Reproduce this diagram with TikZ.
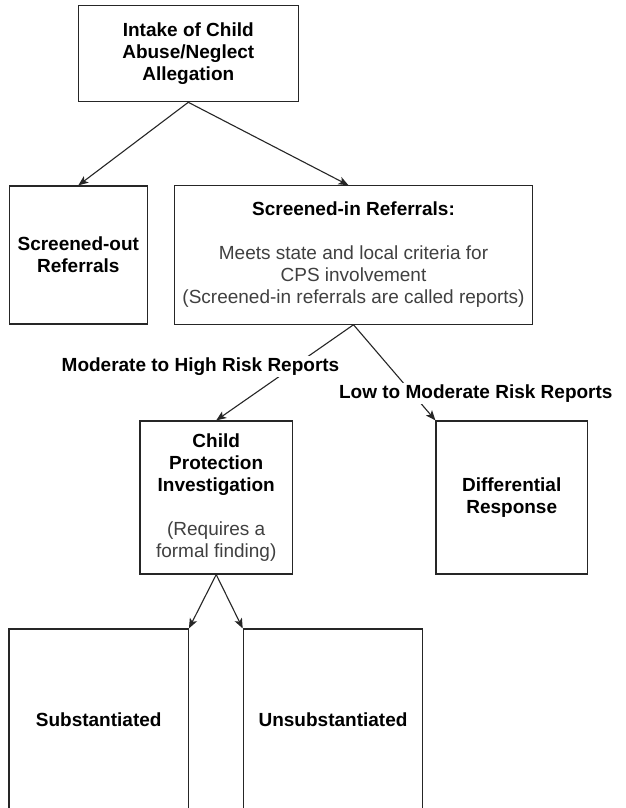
\documentclass[tikz,border=0pt]{standalone}
\usepackage{fontspec}
\setmainfont{Liberation Sans}
\usetikzlibrary{arrows.meta}
\begin{document}
\begin{tikzpicture}[x=1pt,y=-1pt,
  box/.style={draw=black!85, line width=1.2pt, minimum width=#1, inner sep=0pt, align=center,
    font=\fontsize{19}{22}\selectfont},
  conn/.style={draw=black!85, line width=1.1pt, -{Stealth[length=10pt,width=8pt,inset=2.5pt]}},
  plainline/.style={draw=black!85, line width=1.1pt},
  elabel/.style={fill=white, inner sep=1.5pt, font=\fontsize{19}{22}\selectfont\bfseries},
  body/.style={text=black!75}
]
\useasboundingbox (0,0) rectangle (626,808);
\fill[white] (0,0) rectangle (626,808);

\node[box=220pt, minimum height=96pt] (top) at (188.3,53.7)
  {\bfseries Intake of Child\\\bfseries Abuse/Neglect\\\bfseries Allegation};
\node[box=138pt, minimum height=138pt] (so) at (78.3,255)
  {\bfseries Screened-out\\\bfseries Referrals};
\node[box=358.4pt, minimum height=138.3pt] (si) at (353.5,255)
  {\bfseries Screened-in Referrals:\\[22pt]
   \color{black!75}Meets state and local criteria for\\
   \color{black!75}CPS involvement\\
   \color{black!75}(Screened-in referrals are called reports)};
\node[box=152.3pt, minimum height=153pt] (cpi) at (216.2,497.5)
  {\bfseries Child\\\bfseries Protection\\\bfseries Investigation\\[22pt]
   \color{black!75}(Requires a\\\color{black!75}formal finding)};
\node[box=151.3pt, minimum height=153pt] (dr) at (511.7,497.5)
  {\bfseries Differential\\\bfseries Response};
\node[box=179.3pt, minimum height=182pt] (sub) at (98.7,720)
  {\bfseries Substantiated};
\node[box=179.4pt, minimum height=182pt] (unsub) at (333,720)
  {\bfseries Unsubstantiated};

\draw[conn] (top.south) -- (so.north);
\draw[conn] (top.south) -- ([xshift=-5pt]si.north);
\draw[conn] (si.south) -- (cpi.north);
\draw[conn] (si.south) -- (dr.north west);
\draw[conn] (cpi.south) -- (sub.north east);
\draw[conn] (cpi.south) -- (unsub.north west);

\node[elabel] (lhigh) at (200.5,366.5) {Moderate to High Risk Reports};
\node[elabel] (llow) at (475.8,393.5) {Low to Moderate Risk Reports};
\end{tikzpicture}
\end{document}
